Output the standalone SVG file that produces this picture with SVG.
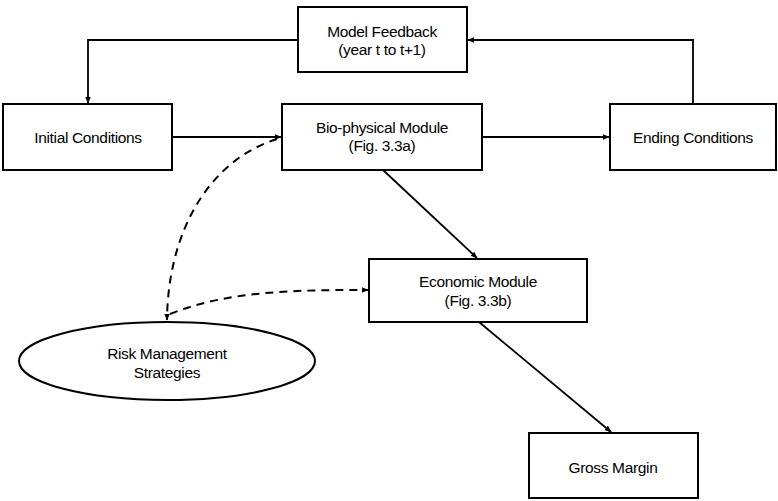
<svg xmlns="http://www.w3.org/2000/svg" width="778" height="501" viewBox="0 0 778 501">
<style>
.box{fill:#fff;stroke:#000;stroke-width:2}
.t{font-family:"Liberation Sans",Arial,sans-serif;font-size:15.5px;fill:#000;text-anchor:middle;letter-spacing:-0.35px}
.c{fill:none;stroke:#000;stroke-width:1.8}
.d{fill:none;stroke:#000;stroke-width:2;stroke-dasharray:8,6}
</style>
<defs>
<marker id="a" viewBox="0 0 10 10" refX="9" refY="5" markerWidth="7" markerHeight="7" markerUnits="userSpaceOnUse" orient="auto">
<path d="M0,1 L10,5 L0,9 z" fill="#000"/>
</marker>
</defs>
<rect width="778" height="501" fill="#fff"/>
<g id="connectors">
<path class="c" d="M298,40 H88 V103" marker-end="url(#a)"/>
<path class="c" d="M693,104 V40 H468" marker-end="url(#a)"/>
<path class="c" d="M172,137 H281" marker-end="url(#a)"/>
<path class="c" d="M482,137 H609" marker-end="url(#a)"/>
<path class="c" d="M383,170 L477,258" marker-end="url(#a)"/>
<path class="c" d="M479,322 L611,432" marker-end="url(#a)"/>
<path class="d" d="M277,139 C210,160 168,230 167,320" marker-end="url(#a)"/>
<path class="d" d="M170,314 C230,290 300,290 368,290" marker-end="url(#a)"/>
</g>
<g id="model-feedback">
<rect class="box" x="298" y="7" width="169" height="65"/>
<text class="t" x="382" y="37">Model Feedback</text>
<text class="t" x="382" y="55">(year t to t+1)</text>
</g>
<g id="initial-conditions">
<rect class="box" x="3" y="104" width="169" height="66"/>
<text class="t" x="88" y="143">Initial Conditions</text>
</g>
<g id="bio-physical">
<rect class="box" x="282" y="104" width="200" height="66"/>
<text class="t" x="382" y="133">Bio-physical Module</text>
<text class="t" x="382" y="151">(Fig. 3.3a)</text>
</g>
<g id="ending-conditions">
<rect class="box" x="610" y="104" width="166" height="66"/>
<text class="t" x="693" y="143">Ending Conditions</text>
</g>
<g id="economic-module">
<rect class="box" x="369" y="259" width="218" height="63"/>
<text class="t" x="478" y="287">Economic Module</text>
<text class="t" x="478" y="306">(Fig. 3.3b)</text>
</g>
<g id="gross-margin">
<rect class="box" x="529" y="433" width="169" height="65"/>
<text class="t" x="613" y="473">Gross Margin</text>
</g>
<g id="risk-management">
<ellipse class="box" cx="167" cy="361" rx="148" ry="39"/>
<text class="t" x="167" y="359">Risk Management</text>
<text class="t" x="167" y="378">Strategies</text>
</g>
</svg>
